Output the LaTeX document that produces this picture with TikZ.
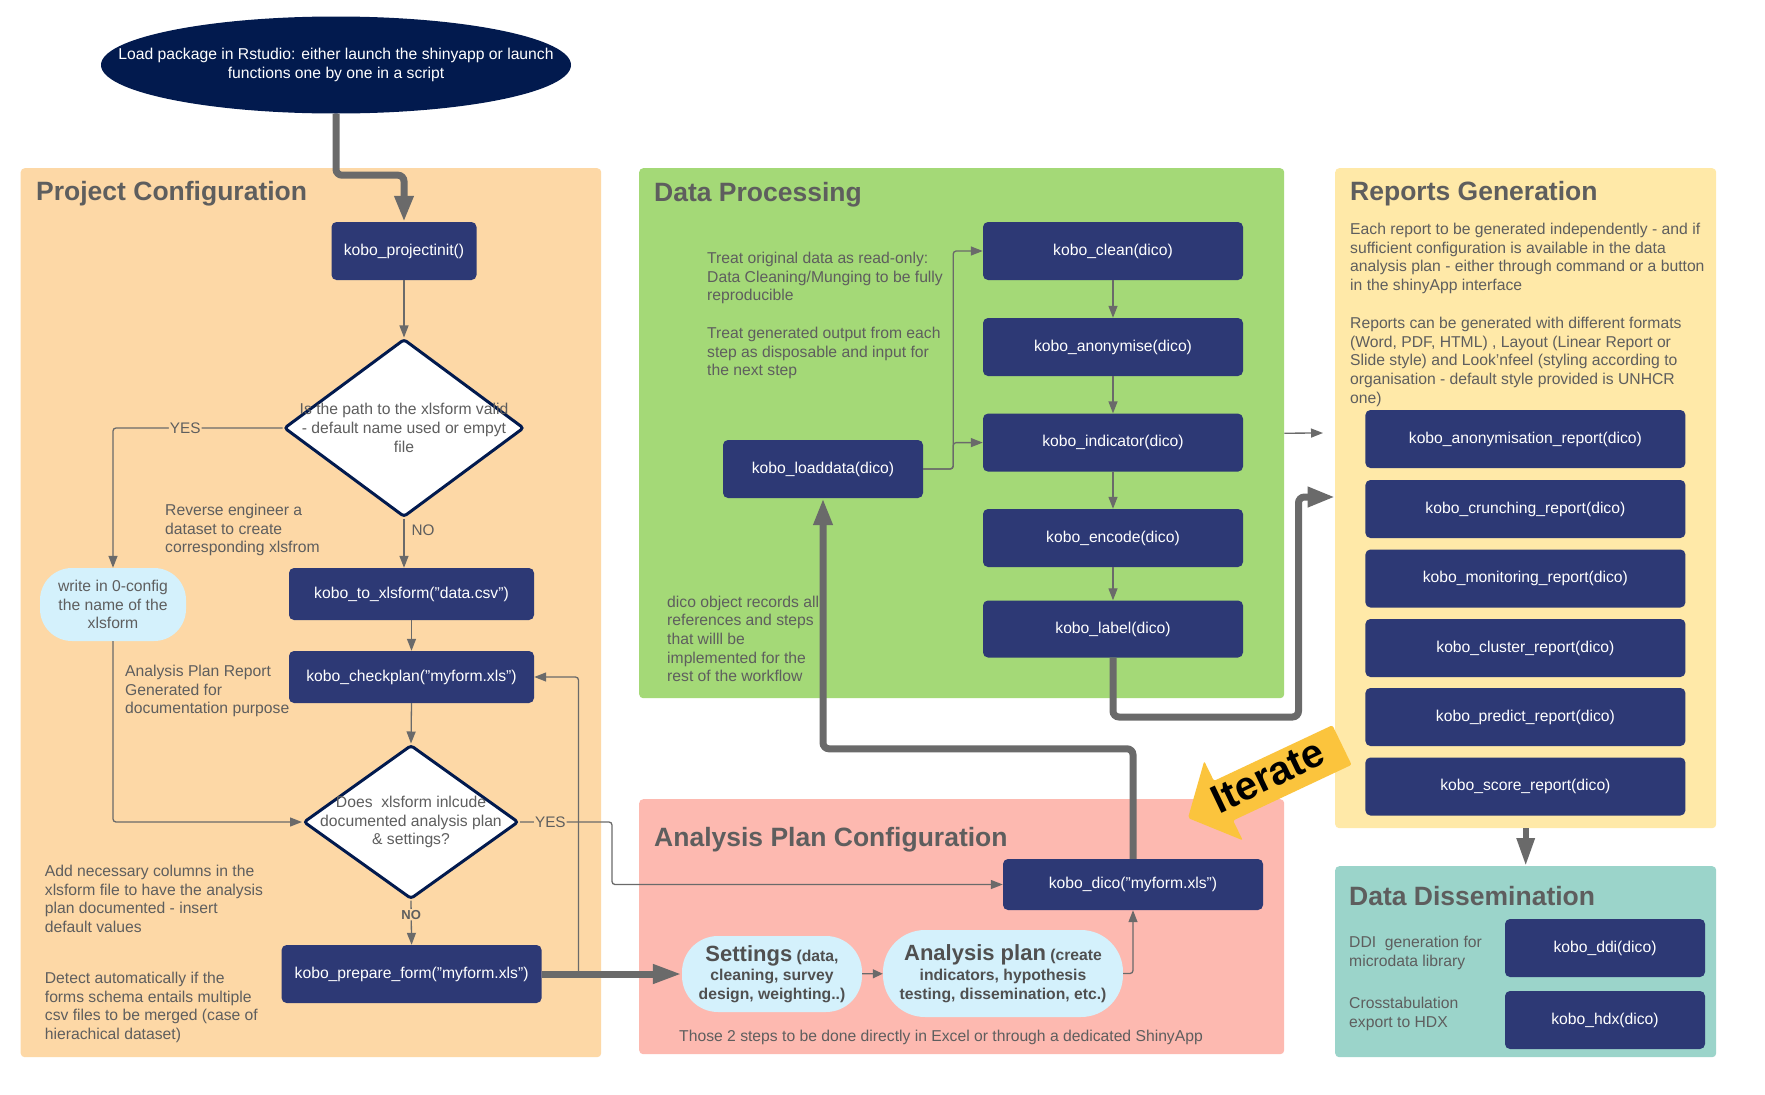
\documentclass[tikz,border=0pt]{standalone}
\usepackage{fontspec}
\setmainfont{Liberation Sans}
\usetikzlibrary{shapes.geometric,arrows.meta,calc}

\definecolor{pcbg}{HTML}{FDD8A6}
\definecolor{dpbg}{HTML}{A4D977}
\definecolor{apbg}{HTML}{FDB9B0}
\definecolor{rgbg}{HTML}{FFE9A8}
\definecolor{ddbg}{HTML}{9BD4CA}
\definecolor{fnbox}{HTML}{2D3975}
\definecolor{ellbg}{HTML}{021A4E}
\definecolor{bub}{HTML}{D4F1FC}
\definecolor{gtxt}{HTML}{5E5E5E}
\definecolor{btxt}{HTML}{505050}
\definecolor{lnc}{HTML}{6A6A6A}
\definecolor{itc}{HTML}{FBC43D}

\newcommand{\bodyfont}{\fontsize{15.7}{18.7}\selectfont}

\tikzset{
  panel/.style={draw=none, rounded corners=4pt, inner sep=0pt, anchor=north west},
  ptitle/.style={anchor=base west, inner sep=0pt, text=gtxt, font=\fontsize{26.5}{30}\selectfont\bfseries},
  fn/.style={rectangle, rounded corners=5pt, fill=fnbox, text=white, inner sep=0pt, font=\bodyfont},
  note/.style={anchor=north west, inner sep=0pt, align=left, text=gtxt, font=\bodyfont},
  dia/.style={diamond, draw=ellbg, line width=3pt, fill=white, rounded corners=3pt, inner sep=0pt},
  bubble/.style={rectangle, fill=bub, inner sep=0pt, align=center},
  conn/.style={draw=lnc, line width=1.3pt, rounded corners=3pt, -{Triangle[length=12pt,width=9pt]}},
  fat/.style={draw=lnc, line width=7pt, rounded corners=6pt, -{Triangle[length=28pt,width=19pt]}},
  lbl/.style={text=gtxt, inner sep=1pt, font=\fontsize{15.3}{18}\selectfont},
}

\begin{document}
\begin{tikzpicture}[x=1pt,y=-1pt]
\useasboundingbox (0,0) rectangle (1765,1095);
\fill[white] (0,0) rectangle (1765,1095);

% panels
\node[panel, fill=pcbg, minimum width=580.5pt, minimum height=889pt] (pc) at (20.5,168) {};
\node[panel, fill=dpbg, minimum width=645pt, minimum height=530pt] (dp) at (639,168) {};
\node[panel, fill=apbg, minimum width=645pt, minimum height=255pt] (ap) at (639,799) {};
\node[panel, fill=rgbg, minimum width=381pt, minimum height=660pt] (rg) at (1335,168) {};
\node[panel, fill=ddbg, minimum width=381pt, minimum height=191pt] (dd) at (1335,866) {};

\node[ptitle] (tpc) at (36,200) {Project Configuration};
\node[ptitle] (tdp) at (654,201) {Data Processing};
\node[ptitle] (tap) at (654,846) {Analysis Plan Configuration};
\node[ptitle] (trg) at (1350,200) {Reports Generation};
\node[ptitle] (tdd) at (1349,905) {Data Dissemination};

% start
\node[ellipse, fill=ellbg, minimum width=470pt, minimum height=97pt, inner sep=0pt,
  label={[text=white, align=center, font=\bodyfont, inner sep=0pt]center:{Load package in Rstudio: either launch the shinyapp or launch\\functions one by one in a script}}] (start) at (336,65) {};

% project configuration
\node[fn, minimum width=145pt, minimum height=58pt] (init) at (404,251) {kobo\_projectinit()};
\node[dia, minimum width=240pt, minimum height=178pt,
  label={[text=gtxt, align=center, font=\bodyfont, inner sep=0pt]center:{Is the path to the xlsform valid\\- default name used or empyt\\file}}] (d1) at (404,428) {};
\node[bubble, minimum width=146pt, minimum height=73pt, rounded corners=32pt, text=gtxt, font=\bodyfont] (cfg) at (113,604.5) {write in 0-config\\the name of the\\xlsform};
\node[fn, minimum width=245pt, minimum height=52pt] (tox) at (411.5,594) {kobo\_to\_xlsform("data.csv")};
\node[fn, minimum width=245pt, minimum height=52pt] (chk) at (411.5,677) {kobo\_checkplan("myform.xls")};
\node[dia, minimum width=215pt, minimum height=154pt,
  label={[text=gtxt, align=center, font=\bodyfont, inner sep=0pt]center:{Does~ xlsform inlcude\\documented analysis plan\\\& settings?}}] (d2) at (411,822) {};
\node[fn, minimum width=260pt, minimum height=58pt] (prep) at (411.6,974) {kobo\_prepare\_form("myform.xls")};

\node[note] (n1) at (165,504) {Reverse engineer a\\dataset to create\\corresponding xlsfrom};
\node[note] (n2) at (125,665) {Analysis Plan Report\\Generated for\\documentation purpose};
\node[note] (n3) at (44.7,865) {Add necessary columns in the\\xlsform file to have the analysis\\plan documented - insert\\default values};
\node[note] (n4) at (44.7,972) {Detect automatically if the\\forms schema entails multiple\\csv files to be merged (case of\\hierachical dataset)};

% data processing
\node[fn, minimum width=260pt, minimum height=58pt] (cln) at (1113,251) {kobo\_clean(dico)};
\node[fn, minimum width=260pt, minimum height=58pt] (ano) at (1113,347) {kobo\_anonymise(dico)};
\node[fn, minimum width=260pt, minimum height=58pt] (ind) at (1113,442.6) {kobo\_indicator(dico)};
\node[fn, minimum width=260pt, minimum height=58pt] (enc) at (1113,538) {kobo\_encode(dico)};
\node[fn, minimum width=260pt, minimum height=57pt] (lab) at (1113,629) {kobo\_label(dico)};
\node[fn, minimum width=200pt, minimum height=58pt] (ld) at (823,469) {kobo\_loaddata(dico)};

\node[note] (n5) at (707,252) {Treat original data as read-only:\\Data Cleaning/Munging to be fully\\reproducible};
\node[note] (n6) at (707,327) {Treat generated output from each\\step as disposable and input for\\the next step};
\node[note] (n7) at (667,595.5) {dico object records all\\references and steps\\that willl be\\implemented for the\\rest of the workflow};

% analysis plan configuration
\node[fn, minimum width=260pt, minimum height=51pt] (dico) at (1133,884.5) {kobo\_dico("myform.xls")};
\node[bubble, minimum width=180pt, minimum height=76pt, rounded corners=36pt, text=btxt, font=\bodyfont\bfseries] (set) at (772,974)
  {{\fontsize{22}{24}\selectfont Settings} (data,\\[1pt]cleaning, survey\\design, weighting..)};
\node[bubble, minimum width=240pt, minimum height=87pt, rounded corners=42pt, text=btxt, font=\bodyfont\bfseries] (apl) at (1003,973.5)
  {{\fontsize{22}{24}\selectfont Analysis plan} (create\\[1pt]indicators, hypothesis\\testing, dissemination, etc.)};
\node[note, anchor=west] (n8) at (679,1037) {Those 2 steps to be done directly in Excel or through a dedicated ShinyApp};

% reports generation
\node[note] (n9) at (1350,223) {Each report to be generated independently - and if\\sufficient configuration is available in the data\\analysis plan - either through command or a button\\in the shinyApp interface};
\node[note] (n10) at (1350,317) {Reports can be generated with different formats\\(Word, PDF, HTML) , Layout (Linear Report or\\Slide style) and Look'nfeel (styling according to\\organisation - default style provided is UNHCR\\one)};
\node[fn, minimum width=320pt, minimum height=58pt] (r1) at (1525.4,439) {kobo\_anonymisation\_report(dico)};
\node[fn, minimum width=320pt, minimum height=58pt] (r2) at (1525.4,509) {kobo\_crunching\_report(dico)};
\node[fn, minimum width=320pt, minimum height=58pt] (r3) at (1525.4,578.5) {kobo\_monitoring\_report(dico)};
\node[fn, minimum width=320pt, minimum height=58pt] (r4) at (1525.4,648) {kobo\_cluster\_report(dico)};
\node[fn, minimum width=320pt, minimum height=58pt] (r5) at (1525.4,717) {kobo\_predict\_report(dico)};
\node[fn, minimum width=320pt, minimum height=58pt] (r6) at (1525.4,786.5) {kobo\_score\_report(dico)};

% data dissemination
\node[fn, minimum width=200pt, minimum height=58pt] (ddi) at (1605,948) {kobo\_ddi(dico)};
\node[fn, minimum width=200pt, minimum height=58pt] (hdx) at (1605,1020) {kobo\_hdx(dico)};
\node[note] (n11) at (1349,936) {DDI~ generation for\\microdata library};
\node[note] (n12) at (1349,997) {Crosstabulation\\export to HDX};

% coordinates for free ends
\coordinate (lp) at (578.5,974);
\coordinate (rin) at (1335,497);
\coordinate (rin2) at (1323,433);

% thin connectors
\draw[conn] (init) -- (d1);
\draw[conn] (d1.west) -| (cfg.north) node[lbl, fill=pcbg, pos=0.287] {YES};
\draw[conn] (d1.south) -- (d1.south |- tox.north) node[lbl, anchor=west, pos=0.24, xshift=6pt] {NO};
\draw[conn] (tox) -- (chk);
\draw[conn] (chk.south) -- (d2.north);
\draw[conn] (cfg.south) |- (d2.west);
\draw[conn] (d2.east) -- ++(92,0) node[lbl, fill=pcbg, pos=0.33] {YES} |- (dico.west);
\draw[conn] (d2.south) -- (prep.north) node[lbl, fill=pcbg, pos=0.32, font=\fontsize{13}{15}\selectfont\bfseries] {NO};
\draw[conn] (lp) |- (chk.east);
\draw[conn] (ld.east) -- ++(30,0) |- (cln.west);
\draw[conn] (ld.east) -- ++(30,0) |- (ind.west);
\draw[conn] (cln) -- (ano);
\draw[conn] (ano) -- (ind);
\draw[conn] (ind) -- (enc);
\draw[conn] (enc) -- (lab);
\draw[conn, -{Triangle[length=10pt,width=9pt]}] (set) -- (apl);
\draw[conn] (apl.east) -| (dico.south);
\draw[conn] (dp.east) -- (rin2);

% thick connectors
\draw[fat, -{Triangle[length=26pt,width=18pt]}] (start.south) -- ++(0,61.5) -| (init.north);
\draw[fat, -{Triangle[length=29pt,width=18pt]}] (prep.east) -- (set.west);
\draw[fat, -{Triangle[length=27pt,width=18pt]}] (dico.north) -- ++(0,-110) -| (ld.south);
\draw[fat, -{Triangle[length=27.5pt,width=19pt]}] (lab.south) |- (1298.5,717) |- (rin);
\draw[fat, line width=6pt, -{Triangle[length=28pt,width=17pt]}] (rg.south) -- (dd.north);

% iterate arrow
\fill[itc, rounded corners=2pt] (1332.4,725.2) -- (1213.9,780.9) -- (1204.2,761.1) -- (1188,818) -- (1242.8,840.3) -- (1233.1,820.5) -- (1351.6,764.8) -- cycle;
\node[rotate=25.5, inner sep=0pt, font=\fontsize{40}{44}\selectfont\bfseries, text=black] (it) at (1268,776) {Iterate};
\end{tikzpicture}
\end{document}
